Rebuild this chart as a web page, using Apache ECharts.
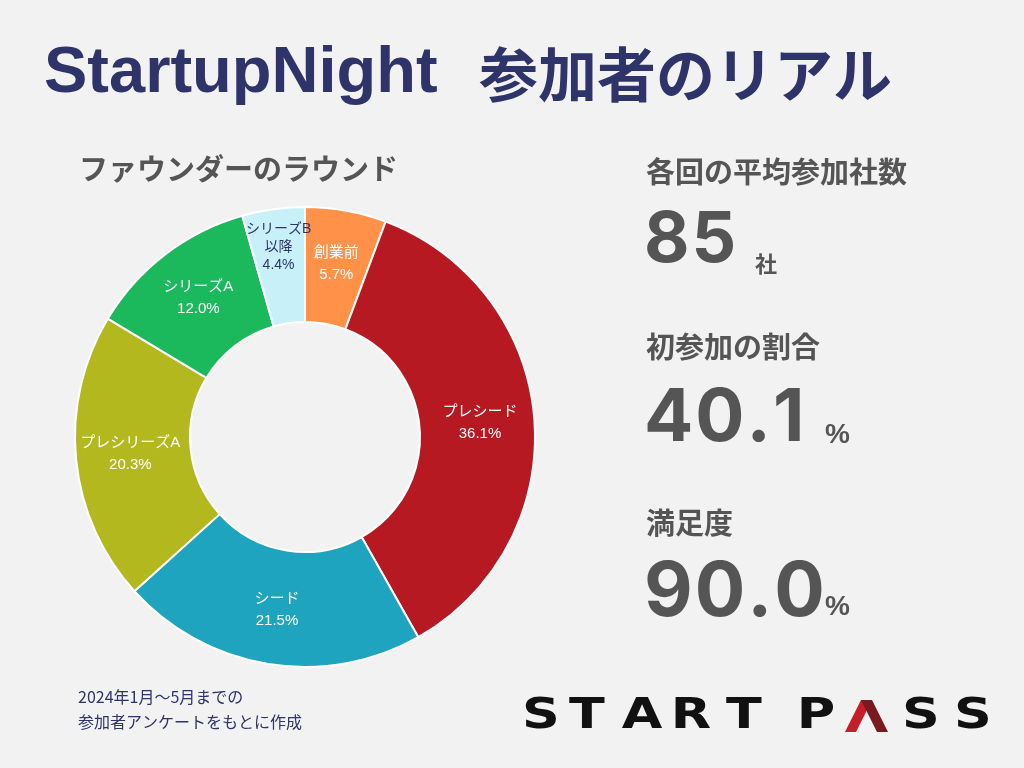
<!DOCTYPE html>
<html>
<head>
<meta charset="utf-8">
<script src="https://cdn.jsdelivr.net/npm/echarts@6/dist/echarts.min.js"></script>
<style>
html,body{margin:0;padding:0;background:#f2f2f2;}
#c{width:1024px;height:768px;}
</style>
</head>
<body>
<div id="c"></div>
<script>
const categories = ['創業前', 'プレシード', 'シード', 'プレシリーズA', 'シリーズA', 'シリーズB以降'];
const labelNames = ['創業前', 'プレシード', 'シード', 'プレシリーズA', 'シリーズA', 'シリーズB\n以降'];
const shares = [5.7, 36.1, 21.5, 20.3, 12.0, 4.4];
const sliceColors = ['#ff9148', '#b71922', '#1fa4bf', '#b2b81e', '#1bb85c', '#c8f0f8'];
const labelColors = ['#ffffff', '#ffffff', '#ffffff', '#ffffff', '#ffffff', '#2e3369'];

const statTitles = ['各回の平均参加社数', '初参加の割合', '満足度'];
const statValues = ['85', '40.1', '90.0'];
const statUnits = ['社', '%', '%'];

const titleLatin = 'StartupNight';
const titleJa = '参加者のリアル';
const subTitle = 'ファウンダーのラウンド';
const noteLines = ['2024年1月～5月までの', '参加者アンケートをもとに作成'];
const logoLetters = ['S', 'T', 'A', 'R', 'T', 'P', '', 'S', 'S'];

const NAVY = '#2e3369';
const GRAY = '#555555';
const JA = '"Noto Sans CJK JP", sans-serif';
const LAT = '"Liberation Sans", "Noto Sans CJK JP", sans-serif';
const NUM = 'Inter, "Liberation Sans", sans-serif';

const CENTER = [305, 437];
const RADIUS = [115, 230];

const chart = echarts.init(document.getElementById('c'), null, {renderer: 'canvas'});
const measureCtx = document.createElement('canvas').getContext('2d');

function txt(text, x, y, font, fill, align, extra) {
  const el = {
    type: 'text', x: x, y: y, silent: true,
    style: {text: text, font: font, fill: fill, align: align || 'left', verticalAlign: 'middle',
            textAlign: align || 'left', textVerticalAlign: 'middle'}
  };
  if (extra) Object.assign(el, extra);
  return el;
}

// text with extra letter spacing, one element per character
function spaced(text, x, y, font, fill, tracking) {
  measureCtx.font = font;
  const out = [];
  let cx = x;
  for (const ch of text) {
    out.push(txt(ch, cx, y, font, fill));
    cx += measureCtx.measureText(ch).width + tracking;
  }
  return out;
}

const graphics = [];
graphics.push(txt(titleLatin, 44, 74, 'bold 65px ' + LAT, NAVY));
graphics.push(txt(titleJa, 479, 75, 'bold 59px ' + JA, NAVY));
graphics.push(txt(subTitle, 79, 169, 'bold 29px ' + JA, GRAY));

const statTitleY = [172, 347, 523];
const statValueY = [241, 419, 593];
const statValueSize = [70, 73, 75];
const unitX = [755, 825, 825];
const unitY = [264, 435, 607];
statTitles.forEach((t, i) => {
  graphics.push(txt(t, 646, statTitleY[i], 'bold 29px ' + JA, GRAY));
  spaced(statValues[i], 644, statValueY[i], 'bold ' + statValueSize[i] + 'px ' + NUM, GRAY, 2)
    .forEach(e => graphics.push(e));
  const uf = statUnits[i] === '%' ? 'bold 28px ' + LAT : 'bold 22px ' + JA;
  graphics.push(txt(statUnits[i], unitX[i], unitY[i], uf, GRAY));
});

noteLines.forEach((t, i) => {
  graphics.push(txt(t, 78, 697 + i * 25, '16px ' + JA, NAVY));
});

const logoX = [541, 587, 642, 691, 744, 816, 866, 921, 973];
logoLetters.forEach((l, i) => {
  if (l) graphics.push(txt(l, logoX[i], 717, 'bold 43px "DejaVu Sans", sans-serif', '#111111', 'center', {scaleX: 1.22}));
});
// stylised red "A" of PASS (chevron)
graphics.push({type: 'polygon', silent: true, shape: {points: [[845, 732], [861, 700], [872, 700], [856, 732]]}, style: {fill: '#c41e28'}});
graphics.push({type: 'polygon', silent: true, shape: {points: [[861, 700], [872, 700], [888, 732], [877, 732]]}, style: {fill: '#7a1a1e'}});

// label of the thin last slice: placed at its mid angle (from the data), outside the ring middle
(function () {
  const total = shares.reduce((a, b) => a + b, 0);
  const idx = shares.length - 1;
  let before = 0;
  for (let i = 0; i < idx; i++) before += shares[i];
  const mid = (before + shares[idx] / 2) / total * 2 * Math.PI;
  const r = 192;
  const x = CENTER[0] + r * Math.sin(mid);
  const y = CENTER[1] - r * Math.cos(mid);
  graphics.push({
    type: 'text', x: x, y: y, silent: true, z: 10,
    style: {text: labelNames[idx] + '\n' + shares[idx].toFixed(1) + '%', font: '14px ' + LAT,
            lineHeight: 18, fill: labelColors[idx], align: 'center', verticalAlign: 'middle',
            textAlign: 'center', textVerticalAlign: 'middle'}
  });
})();

const pieData = categories.map((c, i) => ({
  name: c,
  value: shares[i],
  itemStyle: {color: sliceColors[i]},
  label: {color: labelColors[i], show: i !== categories.length - 1}
}));

chart.setOption({
  backgroundColor: '#f2f2f2',
  animation: false,
  series: [{
    type: 'pie',
    center: CENTER,
    radius: RADIUS,
    startAngle: 90,
    clockwise: true,
    avoidLabelOverlap: false,
    itemStyle: {borderColor: '#ffffff', borderWidth: 2},
    label: {
      show: true,
      position: 'inside',
      fontSize: 15,
      lineHeight: 22,
      fontFamily: LAT,
      formatter: p => labelNames[p.dataIndex] + '\n' + shares[p.dataIndex].toFixed(1) + '%'
    },
    labelLine: {show: false},
    emphasis: {disabled: true},
    data: pieData
  }],
  graphic: graphics
});
</script>
</body>
</html>
